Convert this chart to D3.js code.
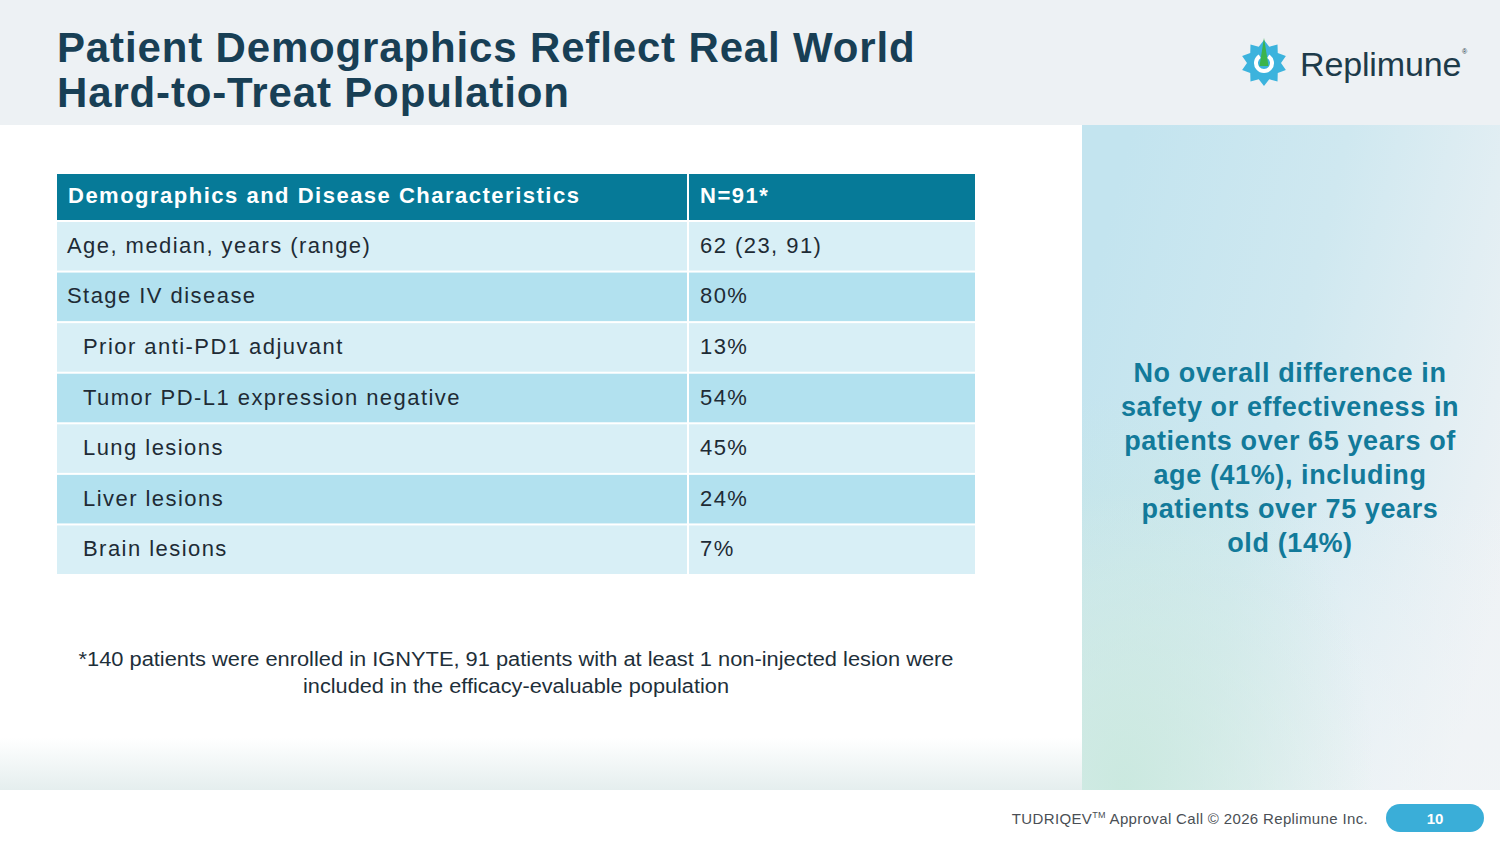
<!DOCTYPE html>
<html>
<head>
<meta charset="utf-8">
<script src="https://cdn.jsdelivr.net/npm/d3@7"></script>
<style>
	html, body { margin: 0; padding: 0; background: #ffffff; }
	svg { display: block; }
</style>
</head>
<body>
<div id="slide"></div>
<script>
// ---------------------------- data ----------------------------
const titleLines = ["Patient Demographics Reflect Real World", "Hard-to-Treat Population"]
const headers = ["Demographics and Disease Characteristics", "N=91*"]
const characteristics = [
	"Age, median, years (range)",
	"Stage IV disease",
	"Prior anti-PD1 adjuvant",
	"Tumor PD-L1 expression negative",
	"Lung lesions",
	"Liver lesions",
	"Brain lesions"
]
const values = ["62 (23, 91)", "80%", "13%", "54%", "45%", "24%", "7%"]
const subItem = [false, false, true, true, true, true, true]
const calloutLines = [
	"No overall difference in",
	"safety or effectiveness in",
	"patients over 65 years of",
	"age (41%), including",
	"patients over 75 years",
	"old (14%)"
]
const footnoteLines = [
	"*140 patients were enrolled in IGNYTE, 91 patients with at least 1 non-injected lesion were",
	"included in the efficacy-evaluable population"
]
const pageNumber = "10"

// ---------------------------- layout ----------------------------
const W = 1500, H = 844
const sans = "'Liberation Sans', Arial, sans-serif"
const navy = "#183f55"

const svg = d3.select("#slide")
	.append("svg")
	.attr("xmlns", "http://www.w3.org/2000/svg")
	.attr("width", W)
	.attr("height", H)
	.attr("viewBox", `0 0 ${W} ${H}`)

const defs = svg.append("defs")

const bottomFade = defs.append("linearGradient").attr("id", "bottomFade").attr("x1", 0).attr("y1", 0).attr("x2", 0).attr("y2", 1)
bottomFade.append("stop").attr("offset", "0%").attr("stop-color", "#ffffff")
bottomFade.append("stop").attr("offset", "100%").attr("stop-color", "#e5eeee")

const panelGrad = defs.append("linearGradient").attr("id", "panelGrad").attr("x1", 0).attr("y1", 0.3).attr("x2", 1).attr("y2", 0.7)
panelGrad.append("stop").attr("offset", "0%").attr("stop-color", "#c3e4ef")
panelGrad.append("stop").attr("offset", "45%").attr("stop-color", "#cfe8f0")
panelGrad.append("stop").attr("offset", "100%").attr("stop-color", "#eef2f5")

const panelGreen = defs.append("radialGradient").attr("id", "panelGreen").attr("cx", 0.1).attr("cy", 1).attr("r", 0.6)
panelGreen.append("stop").attr("offset", "0%").attr("stop-color", "#c8e8dd").attr("stop-opacity", 0.9)
panelGreen.append("stop").attr("offset", "100%").attr("stop-color", "#c8e8dd").attr("stop-opacity", 0)

const panelFade = defs.append("linearGradient").attr("id", "panelFade").attr("x1", 0).attr("y1", 0).attr("x2", 0).attr("y2", 1)
panelFade.append("stop").attr("offset", "55%").attr("stop-color", "#f2f5f7").attr("stop-opacity", 0)
panelFade.append("stop").attr("offset", "100%").attr("stop-color", "#f2f5f7").attr("stop-opacity", 0.6)

// backgrounds
svg.append("rect").attr("x", 0).attr("y", 0).attr("width", W).attr("height", 125).attr("fill", "#edf1f4")
svg.append("rect").attr("x", 0).attr("y", 738).attr("width", 1082).attr("height", 52).attr("fill", "url(#bottomFade)")
svg.append("rect").attr("x", 1082).attr("y", 125).attr("width", 418).attr("height", 665).attr("fill", "url(#panelGrad)")
svg.append("rect").attr("x", 1082).attr("y", 125).attr("width", 418).attr("height", 665).attr("fill", "url(#panelFade)")
svg.append("rect").attr("x", 1082).attr("y", 125).attr("width", 418).attr("height", 665).attr("fill", "url(#panelGreen)")

// title
svg.append("g").selectAll("text")
	.data(titleLines).enter()
	.append("text")
	.attr("x", 57)
	.attr("y", (d, i) => 62 + i * 45)
	.attr("font-family", sans)
	.attr("font-weight", "bold")
	.attr("font-size", 42)
	.attr("letter-spacing", 0.85)
	.attr("fill", navy)
	.text(d => d)

// logo
const logo = svg.append("g").attr("transform", "translate(1264 63)")
const teeth = 10
const gearPts = []
for (let i = 0; i < teeth * 2; i++) {
	const a = -Math.PI / 2 + i * Math.PI / teeth
	const r = i % 2 === 0 ? 23 : 17
	gearPts.push([r * Math.cos(a), r * Math.sin(a)])
}
logo.append("path")
	.attr("d", d3.line().curve(d3.curveLinearClosed)(gearPts))
	.attr("fill", "#3cb3dd")
logo.append("path")
	.attr("d", d3.arc().innerRadius(6).outerRadius(10).startAngle(0.55).endAngle(2 * Math.PI - 0.55)())
	.attr("fill", "#ffffff")
logo.append("path")
	.attr("d", "M0,-25 L4.5,3 L-4.5,3 Z")
	.attr("fill", "#3cb44b")
svg.append("text")
	.attr("x", 1300)
	.attr("y", 76)
	.attr("font-family", sans)
	.attr("font-size", 34)
	.attr("fill", "#1d3b4a")
	.attr("letter-spacing", -0.4)
	.attr("textLength", 161)
	.text("Replimune")
svg.append("text")
	.attr("x", 1462)
	.attr("y", 54)
	.attr("font-family", sans)
	.attr("font-size", 7)
	.attr("fill", "#1d3b4a")
	.text("®")

// ---------------------------- table ----------------------------
const cols = ["label", "value"]
const colX = d3.scaleOrdinal().domain(cols).range([57, 689])
const colW = d3.scaleOrdinal().domain(cols).range([631, 286])
const rowY = d3.scaleBand()
	.domain(d3.range(characteristics.length))
	.range([222, 574])
	.paddingInner(0.04)
	.paddingOuter(0)
const rowFill = i => i % 2 === 0 ? "#d8eff6" : "#b2e1ef"

const table = svg.append("g")

// header
table.selectAll("rect.head")
	.data(cols).enter()
	.append("rect")
	.attr("class", "head")
	.attr("x", d => colX(d))
	.attr("y", 174)
	.attr("width", d => colW(d) - (d === "label" ? 1 : 0))
	.attr("height", 46)
	.attr("fill", "#067a98")
table.selectAll("text.head")
	.data(headers).enter()
	.append("text")
	.attr("class", "head")
	.attr("x", (d, i) => colX(cols[i]) + 11)
	.attr("y", 203)
	.attr("font-family", sans)
	.attr("font-weight", "bold")
	.attr("font-size", 22)
	.attr("letter-spacing", 1.5)
	.attr("fill", "#ffffff")
	.text(d => d)

// body
const cells = []
characteristics.forEach((c, i) => {
	cells.push({ row: i, col: "label", text: c })
	cells.push({ row: i, col: "value", text: values[i] })
})
table.selectAll("rect.cell")
	.data(cells).enter()
	.append("rect")
	.attr("class", "cell")
	.attr("x", d => colX(d.col))
	.attr("y", d => rowY(d.row))
	.attr("width", d => colW(d.col) - (d.col === "label" ? 1 : 0))
	.attr("height", rowY.bandwidth())
	.attr("fill", d => rowFill(d.row))
table.selectAll("text.cell")
	.data(cells).enter()
	.append("text")
	.attr("class", "cell")
	.attr("x", d => colX(d.col) + (d.col === "value" ? 11 : (subItem[d.row] ? 26 : 10)))
	.attr("y", d => rowY(d.row) + rowY.bandwidth() / 2 + 6.5)
	.attr("font-family", sans)
	.attr("font-size", 22)
	.attr("letter-spacing", 1.45)
	.attr("fill", "#1e2b35")
	.text(d => d.text)

// footnote
svg.append("g").selectAll("text")
	.data(footnoteLines).enter()
	.append("text")
	.attr("x", 516)
	.attr("y", (d, i) => 666 + i * 27)
	.attr("text-anchor", "middle")
	.attr("font-family", "'Liberation Sans Narrow', 'Liberation Sans', Arial, sans-serif")
	.attr("font-size", 20)
	.attr("fill", "#1e2f3a")
	.attr("textLength", (d, i) => i === 0 ? 875 : 426)
	.attr("lengthAdjust", "spacingAndGlyphs")
	.text(d => d)

// callout
svg.append("g").selectAll("text")
	.data(calloutLines).enter()
	.append("text")
	.attr("x", 1290)
	.attr("y", (d, i) => 382 + i * 34)
	.attr("text-anchor", "middle")
	.attr("font-family", sans)
	.attr("font-weight", "bold")
	.attr("font-size", 27)
	.attr("letter-spacing", 0.6)
	.attr("fill", "#127a9a")
	.text(d => d)

// ---------------------------- footer ----------------------------
const foot = svg.append("text")
	.attr("x", 1368)
	.attr("y", 824)
	.attr("text-anchor", "end")
	.attr("font-family", sans)
	.attr("font-size", 15)
	.attr("letter-spacing", 0.35)
	.attr("fill", "#4a4f55")
foot.append("tspan").text("TUDRIQEV")
foot.append("tspan").attr("font-size", 9).attr("dy", -6).text("TM")
foot.append("tspan").attr("dy", 6).text(" Approval Call © 2026 Replimune Inc.")

svg.append("rect")
	.attr("x", 1386)
	.attr("y", 804)
	.attr("width", 98)
	.attr("height", 28)
	.attr("rx", 14)
	.attr("fill", "#3aaed8")
svg.append("text")
	.attr("x", 1435)
	.attr("y", 824)
	.attr("text-anchor", "middle")
	.attr("font-family", sans)
	.attr("font-weight", "bold")
	.attr("font-size", 15)
	.attr("fill", "#ffffff")
	.text(pageNumber)
</script>
</body>
</html>
